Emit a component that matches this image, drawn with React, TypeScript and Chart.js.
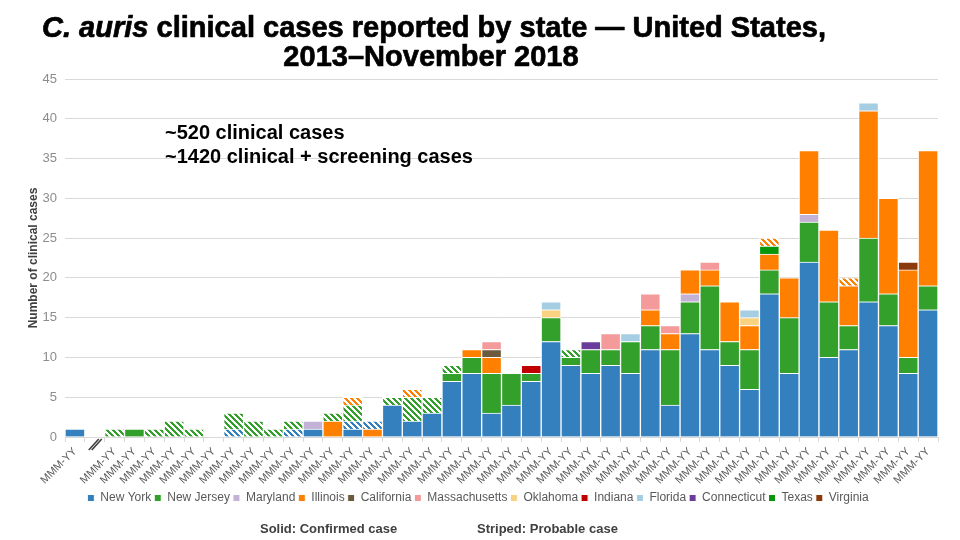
import React, { useEffect, useRef } from "react";
import { Chart, registerables } from "chart.js";

Chart.register(...registerables);

// ---------- data ----------
const categories = [
  "MMM-YY", "", "MMM-YY", "MMM-YY", "MMM-YY", "MMM-YY", "MMM-YY", "MMM-YY", "MMM-YY", "MMM-YY",
  "MMM-YY", "MMM-YY", "MMM-YY", "MMM-YY", "MMM-YY", "MMM-YY", "MMM-YY", "MMM-YY", "MMM-YY", "MMM-YY",
  "MMM-YY", "MMM-YY", "MMM-YY", "MMM-YY", "MMM-YY", "MMM-YY", "MMM-YY", "MMM-YY", "MMM-YY", "MMM-YY",
  "MMM-YY", "MMM-YY", "MMM-YY", "MMM-YY", "MMM-YY", "MMM-YY", "MMM-YY", "MMM-YY", "MMM-YY", "MMM-YY",
  "MMM-YY", "MMM-YY", "MMM-YY", "MMM-YY",
];

// confirmed (solid)
const newYork = [1,0,0,0,0,0,0,0,0,0,0,0,1,0,1,0,4,2,3,7,8,3,4,7,12,9,8,9,8,11,4,13,11,9,6,18,8,22,10,11,17,14,8,16];
const newJersey = [0,0,0,1,0,0,0,0,0,0,0,0,0,0,0,0,0,0,0,1,2,5,4,1,3,1,3,2,4,3,7,4,8,3,5,3,7,5,7,3,8,4,2,3];
const maryland = [0,0,0,0,0,0,0,0,0,0,0,0,1,0,0,0,0,0,0,0,0,0,0,0,0,0,0,0,0,0,0,1,0,0,0,0,0,1,0,0,0,0,0,0];
const illinois = [0,0,0,0,0,0,0,0,0,0,0,0,0,2,0,1,0,0,0,0,1,2,0,0,0,0,0,0,0,2,2,3,2,5,3,2,5,8,9,5,16,12,11,17];
const california = [0,0,0,0,0,0,0,0,0,0,0,0,0,0,0,0,0,0,0,0,0,1,0,0,0,0,0,0,0,0,0,0,0,0,0,0,0,0,0,0,0,0,0,0];
const massachusetts = [0,0,0,0,0,0,0,0,0,0,0,0,0,0,0,0,0,0,0,0,0,1,0,0,0,0,0,2,0,2,1,0,1,0,0,0,0,0,0,0,0,0,0,0];
const oklahoma = [0,0,0,0,0,0,0,0,0,0,0,0,0,0,0,0,0,0,0,0,0,0,0,0,1,0,0,0,0,0,0,0,0,0,1,0,0,0,0,0,0,0,0,0];
const indiana = [0,0,0,0,0,0,0,0,0,0,0,0,0,0,0,0,0,0,0,0,0,0,0,1,0,0,0,0,0,0,0,0,0,0,0,0,0,0,0,0,0,0,0,0];
const florida = [0,0,0,0,0,0,0,0,0,0,0,0,0,0,0,0,0,0,0,0,0,0,0,0,1,0,0,0,1,0,0,0,0,0,1,0,0,0,0,0,1,0,0,0];
const connecticut = [0,0,0,0,0,0,0,0,0,0,0,0,0,0,0,0,0,0,0,0,0,0,0,0,0,0,1,0,0,0,0,0,0,0,0,0,0,0,0,0,0,0,0,0];
const texas = [0,0,0,0,0,0,0,0,0,0,0,0,0,0,0,0,0,0,0,0,0,0,0,0,0,0,0,0,0,0,0,0,0,0,0,1,0,0,0,0,0,0,0,0];
const virginia = [0,0,0,0,0,0,0,0,0,0,0,0,0,0,0,0,0,0,0,0,0,0,0,0,0,0,0,0,0,0,0,0,0,0,0,0,0,0,0,0,0,0,1,0];

// probable (striped)
const newYorkProbable = [0,0,0,0,0,0,0,0,1,0,0,1,0,0,1,1,0,0,0,0,0,0,0,0,0,0,0,0,0,0,0,0,0,0,0,0,0,0,0,0,0,0,0,0];
const newJerseyProbable = [0,0,1,0,1,2,1,0,2,2,1,1,0,1,2,0,1,3,2,1,0,0,0,0,0,1,0,0,0,0,0,0,0,0,0,0,0,0,0,0,0,0,0,0];
const illinoisProbable = [0,0,0,0,0,0,0,0,0,0,0,0,0,0,1,0,0,1,0,0,0,0,0,0,0,0,0,0,0,0,0,0,0,0,0,1,0,0,0,1,0,0,0,0];

const yTicks = [0, 5, 10, 15, 20, 25, 30, 35, 40, 45];

const TITLE_ITALIC = "C. auris";
const TITLE_REST = " clinical cases reported by state \u2014 United States,";
const TITLE_LINE2 = "2013\u2013November 2018";
const NOTE_1 = "~520 clinical cases";
const NOTE_2 = "~1420 clinical + screening cases";
const FOOT_SOLID = "Solid: Confirmed case";
const FOOT_STRIPED = "Striped: Probable case";

const COLORS = {
  newYork: "#3480be",
  newJersey: "#33a02c",
  maryland: "#c4b2d6",
  illinois: "#ff7f00",
  california: "#6b5a3e",
  massachusetts: "#f59a9b",
  oklahoma: "#f9d280",
  indiana: "#c00000",
  florida: "#a6cee3",
  connecticut: "#6a3d9a",
  texas: "#0a960a",
  virginia: "#8b3a0e",
};

function stripes(color: string): CanvasPattern | string {
  const c = document.createElement("canvas");
  c.width = 6;
  c.height = 6;
  const g = c.getContext("2d");
  if (!g) return color;
  g.fillStyle = "#ffffff";
  g.fillRect(0, 0, 6, 6);
  g.fillStyle = color;
  for (let y = 0; y < 6; y++) {
    for (let x = 0; x < 6; x++) {
      if ((((x - y) % 6) + 6) % 6 < 3) g.fillRect(x, y, 1, 1);
    }
  }
  return g.createPattern(c, "repeat") || color;
}

function heavyText(ctx: CanvasRenderingContext2D, text: string, x: number, y: number) {
  ctx.fillText(text, x, y);
  ctx.strokeText(text, x, y);
}

const textPlugin = {
  id: "customText",
  beforeDraw(chart: any) {
    const ctx = chart.ctx;
    ctx.save();
    ctx.fillStyle = "#ffffff";
    ctx.fillRect(0, 0, chart.width, chart.height);
    ctx.restore();
  },
  afterDraw(chart: any) {
    const ctx = chart.ctx;
    ctx.save();
    const fam = '"Liberation Sans", Arial, sans-serif';
    const fi = `italic bold 30px ${fam}`;
    const fb = `bold 30px ${fam}`;
    ctx.fillStyle = "#000000";
    ctx.strokeStyle = "#000000";
    ctx.lineWidth = 0.7;
    ctx.lineJoin = "round";
    ctx.textBaseline = "alphabetic";
    ctx.font = fi;
    const w1 = ctx.measureText(TITLE_ITALIC).width;
    ctx.font = fb;
    const w2 = ctx.measureText(TITLE_REST).width;
    const targetW = 784;
    const sx = targetW / (w1 + w2);
    // line 1 (horizontally condensed)
    ctx.save();
    ctx.translate(434 - targetW / 2, 37);
    ctx.scale(sx, 1);
    ctx.textAlign = "left";
    ctx.font = fi;
    heavyText(ctx, TITLE_ITALIC, 0, 0);
    ctx.font = fb;
    heavyText(ctx, TITLE_REST, w1, 0);
    ctx.restore();
    // line 2
    ctx.save();
    ctx.translate(431, 66);
    ctx.scale(sx, 1);
    ctx.textAlign = "center";
    ctx.font = fb;
    heavyText(ctx, TITLE_LINE2, 0, 0);
    ctx.restore();

    // annotation
    ctx.textAlign = "left";
    ctx.font = 'bold 20px "Liberation Sans", Arial, sans-serif';
    ctx.fillText(NOTE_1, 165, 139);
    ctx.fillText(NOTE_2, 165, 163);

    // footer
    ctx.fillStyle = "#404040";
    ctx.font = 'bold 13px "Liberation Sans", Arial, sans-serif';
    ctx.fillText(FOOT_SOLID, 260, 533);
    ctx.fillText(FOOT_STRIPED, 477, 533);

    // axis break mark
    const xs = chart.scales.x;
    const ys = chart.scales.y;
    const cx = xs.getPixelForValue(1);
    const cy = ys.getPixelForValue(0);
    ctx.strokeStyle = "#ffffff";
    ctx.lineWidth = 5;
    ctx.beginPath();
    ctx.moveTo(cx - 4, cy + 12);
    ctx.lineTo(cx + 5, cy + 2);
    ctx.stroke();
    ctx.strokeStyle = "#404040";
    ctx.lineWidth = 1.6;
    ctx.beginPath();
    ctx.moveTo(cx - 6, cy + 13);
    ctx.lineTo(cx + 4, cy + 2);
    ctx.moveTo(cx - 3, cy + 13);
    ctx.lineTo(cx + 7, cy + 2);
    ctx.stroke();
    ctx.restore();
  },
};

function clean(arr: number[]) {
  return arr.map((v) => (v ? v : null));
}

export default function App() {
  const ref = useRef<HTMLCanvasElement | null>(null);

  useEffect(() => {
    const canvas = ref.current;
    if (!canvas) return;
    Chart.defaults.font.family = '"Liberation Sans", Arial, sans-serif';

    const solid = (label: string, data: number[], color: string) => ({
      label,
      data: clean(data),
      backgroundColor: color,
      borderColor: "#ffffff",
      borderWidth: 1,
      stack: "s",
    });
    const striped = (label: string, data: number[], color: string) => ({
      label,
      data: clean(data),
      backgroundColor: stripes(color),
      borderColor: "#ffffff",
      borderWidth: 1,
      stack: "s",
    });

    const chart = new Chart(canvas, {
      type: "bar",
      data: {
        labels: categories,
        datasets: [
          solid("New York", newYork, COLORS.newYork),
          solid("New Jersey", newJersey, COLORS.newJersey),
          solid("Maryland", maryland, COLORS.maryland),
          solid("Illinois", illinois, COLORS.illinois),
          solid("California", california, COLORS.california),
          solid("Massachusetts", massachusetts, COLORS.massachusetts),
          solid("Oklahoma", oklahoma, COLORS.oklahoma),
          solid("Indiana", indiana, COLORS.indiana),
          solid("Florida", florida, COLORS.florida),
          solid("Connecticut", connecticut, COLORS.connecticut),
          solid("Texas", texas, COLORS.texas),
          solid("Virginia", virginia, COLORS.virginia),
          striped("New York (probable)", newYorkProbable, COLORS.newYork),
          striped("New Jersey (probable)", newJerseyProbable, COLORS.newJersey),
          striped("Illinois (probable)", illinoisProbable, COLORS.illinois),
        ] as any,
      },
      options: {
        animation: false,
        responsive: false,
        maintainAspectRatio: false,
        layout: { padding: { left: 18, right: 22, top: 79, bottom: 26 } },
        datasets: {
          bar: { categoryPercentage: 1, barPercentage: 1 },
        } as any,
        scales: {
          x: {
            stacked: true,
            offset: true,
            grid: {
              offset: true,
              drawOnChartArea: false,
              drawTicks: true,
              tickLength: 5,
              color: "#d9d9d9",
            },
            border: { display: true, color: "#d9d9d9" },
            ticks: {
              autoSkip: false,
              maxRotation: 45,
              minRotation: 45,
              color: "#595959",
              font: { size: 11 },
              padding: 3,
            },
            afterFit(scale: any) {
              scale.height = 52;
            },
          },
          y: {
            stacked: true,
            min: 0,
            max: 45,
            afterBuildTicks(scale: any) {
              scale.ticks = yTicks.map((v) => ({ value: v }));
            },
            grid: { color: "#d9d9d9", drawTicks: false },
            border: { display: false },
            ticks: { color: "#8c8c8c", font: { size: 13 }, padding: 8 },
            title: {
              display: true,
              text: "Number of clinical cases",
              color: "#404040",
              font: { size: 12, weight: "bold" },
              padding: { top: 8, bottom: 0 },
            },
            afterFit(scale: any) {
              scale.width = 47;
            },
          },
        },
        plugins: {
          title: { display: false },
          tooltip: { enabled: false },
          legend: {
            display: true,
            position: "bottom",
            labels: {
              boxWidth: 7,
              boxHeight: 7,
              padding: 3,
              color: "#595959",
              font: { size: 12 },
              filter: (item: any) => !String(item.text).includes("probable"),
            },
          },
        },
      } as any,
      plugins: [textPlugin],
    });

    return () => chart.destroy();
  }, []);

  return (
    <div style={{ position: "fixed", left: 0, top: 0, width: 960, height: 540, background: "#fff" }}>
      <canvas ref={ref} width={960} height={540} style={{ display: "block", width: 960, height: 540 }} />
    </div>
  );
}
